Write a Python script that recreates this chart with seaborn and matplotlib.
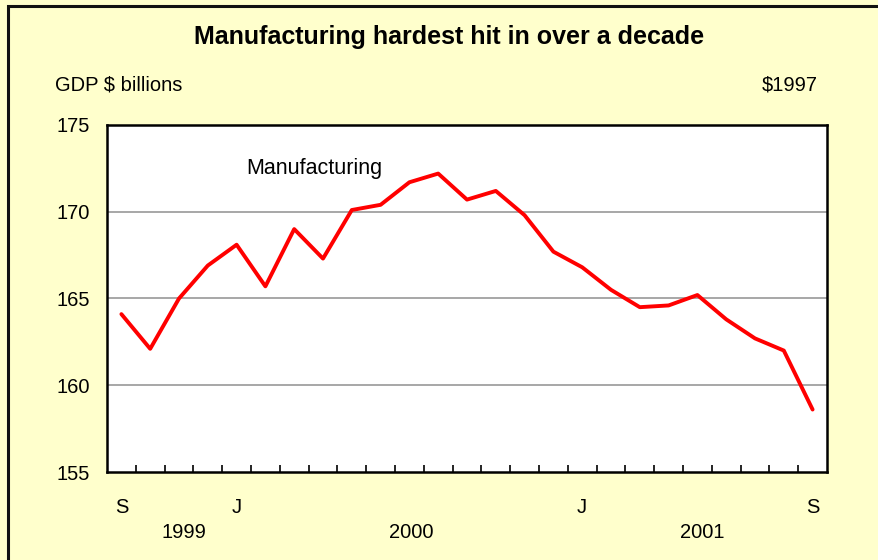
import matplotlib
matplotlib.use("Agg")
import matplotlib.pyplot as plt
import matplotlib.patches as mpatches
import matplotlib.transforms as mtransforms
import seaborn as sns
import pandas as pd

# Data: monthly manufacturing GDP, Sep 1999 - Sep 2001 ($1997 billions)
months = ["S", "O", "N", "D", "J", "F", "M", "A", "M", "J", "J", "A", "S", "O", "N", "D",
          "J", "F", "M", "A", "M", "J", "J", "A", "S"]
values = [164.1, 162.1, 165.0, 166.9, 168.1, 165.7, 169.0, 167.3, 170.1, 170.4, 171.7, 172.2,
          170.7, 171.2, 169.8, 167.7, 166.8, 165.5, 164.5, 164.6, 165.2, 163.8, 162.7, 162.0, 158.6]
shown_month_idx = [0, 4, 16, 24]
years = ["1999", "2000", "2001"]
year_pos = [2.17, 10.06, 20.16]
yticks = [155, 160, 165, 170, 175]

df = pd.DataFrame({"idx": range(len(values)), "gdp": values})

sns.set_theme(style="white")
plt.rcParams["font.family"] = ["Liberation Sans", "DejaVu Sans"]
plt.rcParams["text.color"] = "black"
plt.rcParams["xtick.color"] = "black"
plt.rcParams["ytick.color"] = "black"

bg = "#FFFFCC"
fig = plt.figure(figsize=(8.79, 5.6), dpi=100, facecolor=bg)
ax = fig.add_axes([107/879, 1-472/560, 720/879, 347/560])
ax.set_facecolor("white")

for y in [160, 165, 170]:
    ax.axhline(y, color="#A0A0A0", lw=1.3, zorder=1)

sns.lineplot(data=df, x="idx", y="gdp", ax=ax, color="#FF0000", lw=2.8, zorder=3)

ax.set_xlim(-0.5, len(values) - 0.5)
ax.set_ylim(155, 175)
ax.set_yticks(yticks)
ax.set_yticklabels([str(t) for t in yticks], fontsize=14.5)
ax.tick_params(axis="y", length=0, pad=12)
ax.set_xticks(shown_month_idx)
ax.set_xticklabels([months[i] for i in shown_month_idx], fontsize=14.5)
ax.set_xticks([i + 0.5 for i in range(len(values) - 1)], minor=True)
ax.tick_params(axis="x", which="major", length=0, pad=19)
ax.tick_params(axis="x", which="minor", direction="in", length=5, width=1.2, color="black", bottom=True)
ax.set_xlabel("")
ax.set_ylabel("")
for s in ax.spines.values():
    s.set_color("black")
    s.set_linewidth(1.8)

trans = mtransforms.blended_transform_factory(ax.transData, fig.transFigure)
for yl, xp in zip(years, year_pos):
    fig.text(xp, 1 - 532/560, yl, transform=trans, ha="center", va="center", fontsize=14.5)

ax.text(6.69, 172.5, "Manufacturing", ha="center", va="center", fontsize=15.5)

fig.text(449/879, 1 - 37/560, "Manufacturing hardest hit in over a decade",
         ha="center", va="center", fontsize=18, fontweight="bold")
fig.text(55/879, 1 - 85/560, "GDP $ billions", ha="left", va="center", fontsize=14.5)
fig.text(818/879, 1 - 85/560, "$1997", ha="right", va="center", fontsize=14.5)

frame = mpatches.Rectangle((8/879, -0.1), 1.2, 1 - 6/560 + 0.1, transform=fig.transFigure,
                           fill=False, edgecolor="#111111", lw=2.2, zorder=10)
fig.patches.append(frame)

fig.savefig("out.png", dpi=100, facecolor=bg)
